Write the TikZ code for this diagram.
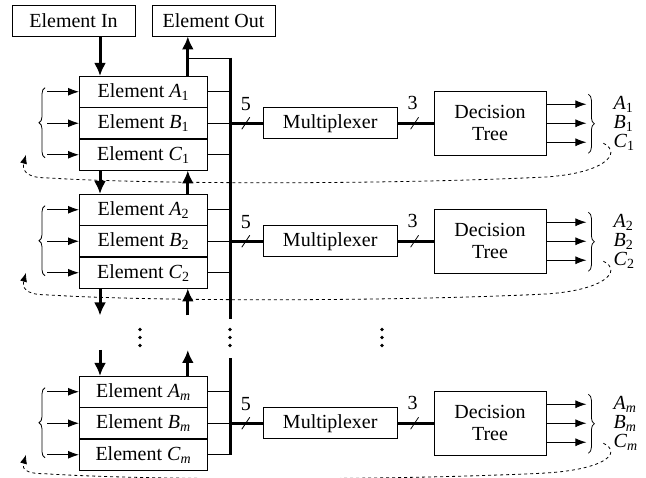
\documentclass[tikz,border=0pt]{standalone}
\usepackage{fontspec}
\setmainfont{Liberation Serif}
\usetikzlibrary{arrows.meta,positioning,calc,decorations.pathreplacing}
\tikzset{
  box/.style={draw,line width=0.8pt,minimum height=31pt,inner sep=0pt},
  cell/.style={box,minimum width=128pt,minimum height=30.7pt},
  lab/.style={inner sep=0pt,anchor=west},
  sig/.style={line width=0.9pt,-{Latex[length=11pt,width=8pt]}},
  fat/.style={line width=3pt,-{Latex[length=13pt,width=12pt]}},
  bus/.style={line width=3pt},
  fb/.style={dashed,line width=0.8pt,-{Latex[length=9pt,width=7pt]}},
  brc/.style={decorate,decoration={brace,amplitude=6pt},line width=0.8pt}
}
\begin{document}
\begin{tikzpicture}[x=1pt,y=-1pt,font=\fontsize{20}{22}\selectfont]
\useasboundingbox (0,0) rectangle (646,478);
% top boxes
\node[box,minimum width=123pt] (elin) at (73.5,20.5) {Element In};
\node[box,minimum width=123pt] (elout) at (213.5,20.5) {Element Out};
% one stage per element group
\foreach \k/\t/\s/\d in {1/76/1/58, 2/194/2/57, m/376/\textit{m}/54}{
  \node[cell,anchor=north west] (a\k) at (79,\t) {Element \textit{A}\textsubscript{\s}};
  \node[cell,below=0pt of a\k] (b\k) {Element \textit{B}\textsubscript{\s}};
  \node[cell,below=0pt of b\k] (c\k) {Element \textit{C}\textsubscript{\s}};
  \node[box,minimum width=134pt,right=55pt of b\k] (mux\k) {Multiplexer};
  \node[box,minimum width=112pt,minimum height=64pt,align=center,right=36pt of mux\k] (dt\k) {Decision\\Tree};
  \node[lab] (oa\k) at ($(dt\k.east)+(67,-19)$) {\textit{A}\textsubscript{\s}};
  \node[lab] (ob\k) at ($(dt\k.east)+(67,0)$) {\textit{B}\textsubscript{\s}};
  \node[lab] (oc\k) at ($(dt\k.east)+(67,19)$) {\textit{C}\textsubscript{\s}};
  \coordinate (j\k) at ($(b\k.east)+(23,0)$);
  % inputs
  \draw[brc] ($(c\k.west)+(-34,3)$) -- ($(a\k.west)+(-34,-4)$);
  \foreach \r in {a,b,c}{
    \draw[sig] ($(\r\k.west)+(-32,0)$) -- (\r\k.west);
    \draw[line width=0.8pt] (\r\k.east) -- (\r\k.east -| j\k);
  }
  % to multiplexer and tree
  \draw[bus] (j\k) -- (mux\k.west);
  \draw[line width=0.8pt] ($(j\k)+(11,6)$) -- ($(j\k)+(19,-6)$);
  \node at ($(j\k)+(15,-19)$) {5};
  \draw[bus] (mux\k.east) -- (dt\k.west);
  \draw[line width=0.8pt] ($(mux\k.east)+(13,6)$) -- ($(mux\k.east)+(21,-6)$);
  \node at ($(mux\k.east)+(15,-20)$) {3};
  % outputs
  \foreach \r in {a,b,c}
    \draw[sig] (dt\k.east |- o\r\k.west) -- ($(o\r\k.west)+(-27,0)$);
  \draw[brc] ($(dt\k.east)+(42,-29)$) -- ($(dt\k.east)+(42,30)$);
  % feedback
  \coordinate (fs\k) at ($(b\k.center -| dt\k.east)+(57,20)$);
  \coordinate (fe\k) at ($(c\k.west)+(-53,0)$);
  \coordinate (fr\k) at ($(fs\k)+(-62,{\d-24})$);
  \coordinate (fl\k) at ($(fe\k)+(19,{\d-35})$);
  \draw[fb] (fs\k) .. controls ($(fs\k)+(20,10)$) and ($(fr\k)+(62,-3)$) .. (fr\k)
    .. controls ($(fr\k)+(-150,7)$) and ($(fl\k)+(110,7)$) .. (fl\k)
    .. controls ($(fl\k)+(-20,0)$) and ($(fe\k)+(-4,14)$) .. (fe\k);
}
% element in / out and links between stages
\coordinate (xin) at ($(a1.north west)+(21,0)$);
\coordinate (xout) at ($(a1.north east)+(-20,0)$);
\coordinate (jt) at ($(j1)+(0,-65)$);
\coordinate (g1) at ($(c2.south)+(0,27)$);
\coordinate (g2) at ($(am.north)+(0,-26)$);
\draw[fat] (xin |- elin.south) -- (xin);
\draw[fat] (xout) -- (xout |- elout.south);
\draw[line width=1.2pt] (xout |- jt) -- (jt);
\draw[fat] (xin |- c1.south) -- (xin |- a2.north);
\draw[fat] (xout |- a2.north) -- (xout |- c1.south);
\draw[fat] (xin |- c2.south) -- (xin |- g1);
\draw[fat] (xout |- g1) -- (xout |- c2.south);
\draw[fat] (xin |- g2) -- (xin |- am.north);
\draw[fat] (xout |- am.north) -- (xout |- g2);
% bus
\coordinate (bb1) at ($(j2)+(0,78)$);
\coordinate (bb2) at ($(jm)+(0,-65)$);
\draw[bus] ($(jt)+(0,-0.6)$) -- (bb1);
\draw[bus] (bb2) -- (jm |- cm.east);
% dots
\foreach \x in {140,230,382}
  \foreach \y in {329.5,337.5,345.5}
    \fill (\x,\y) circle (1.8pt);
\end{tikzpicture}
\end{document}
